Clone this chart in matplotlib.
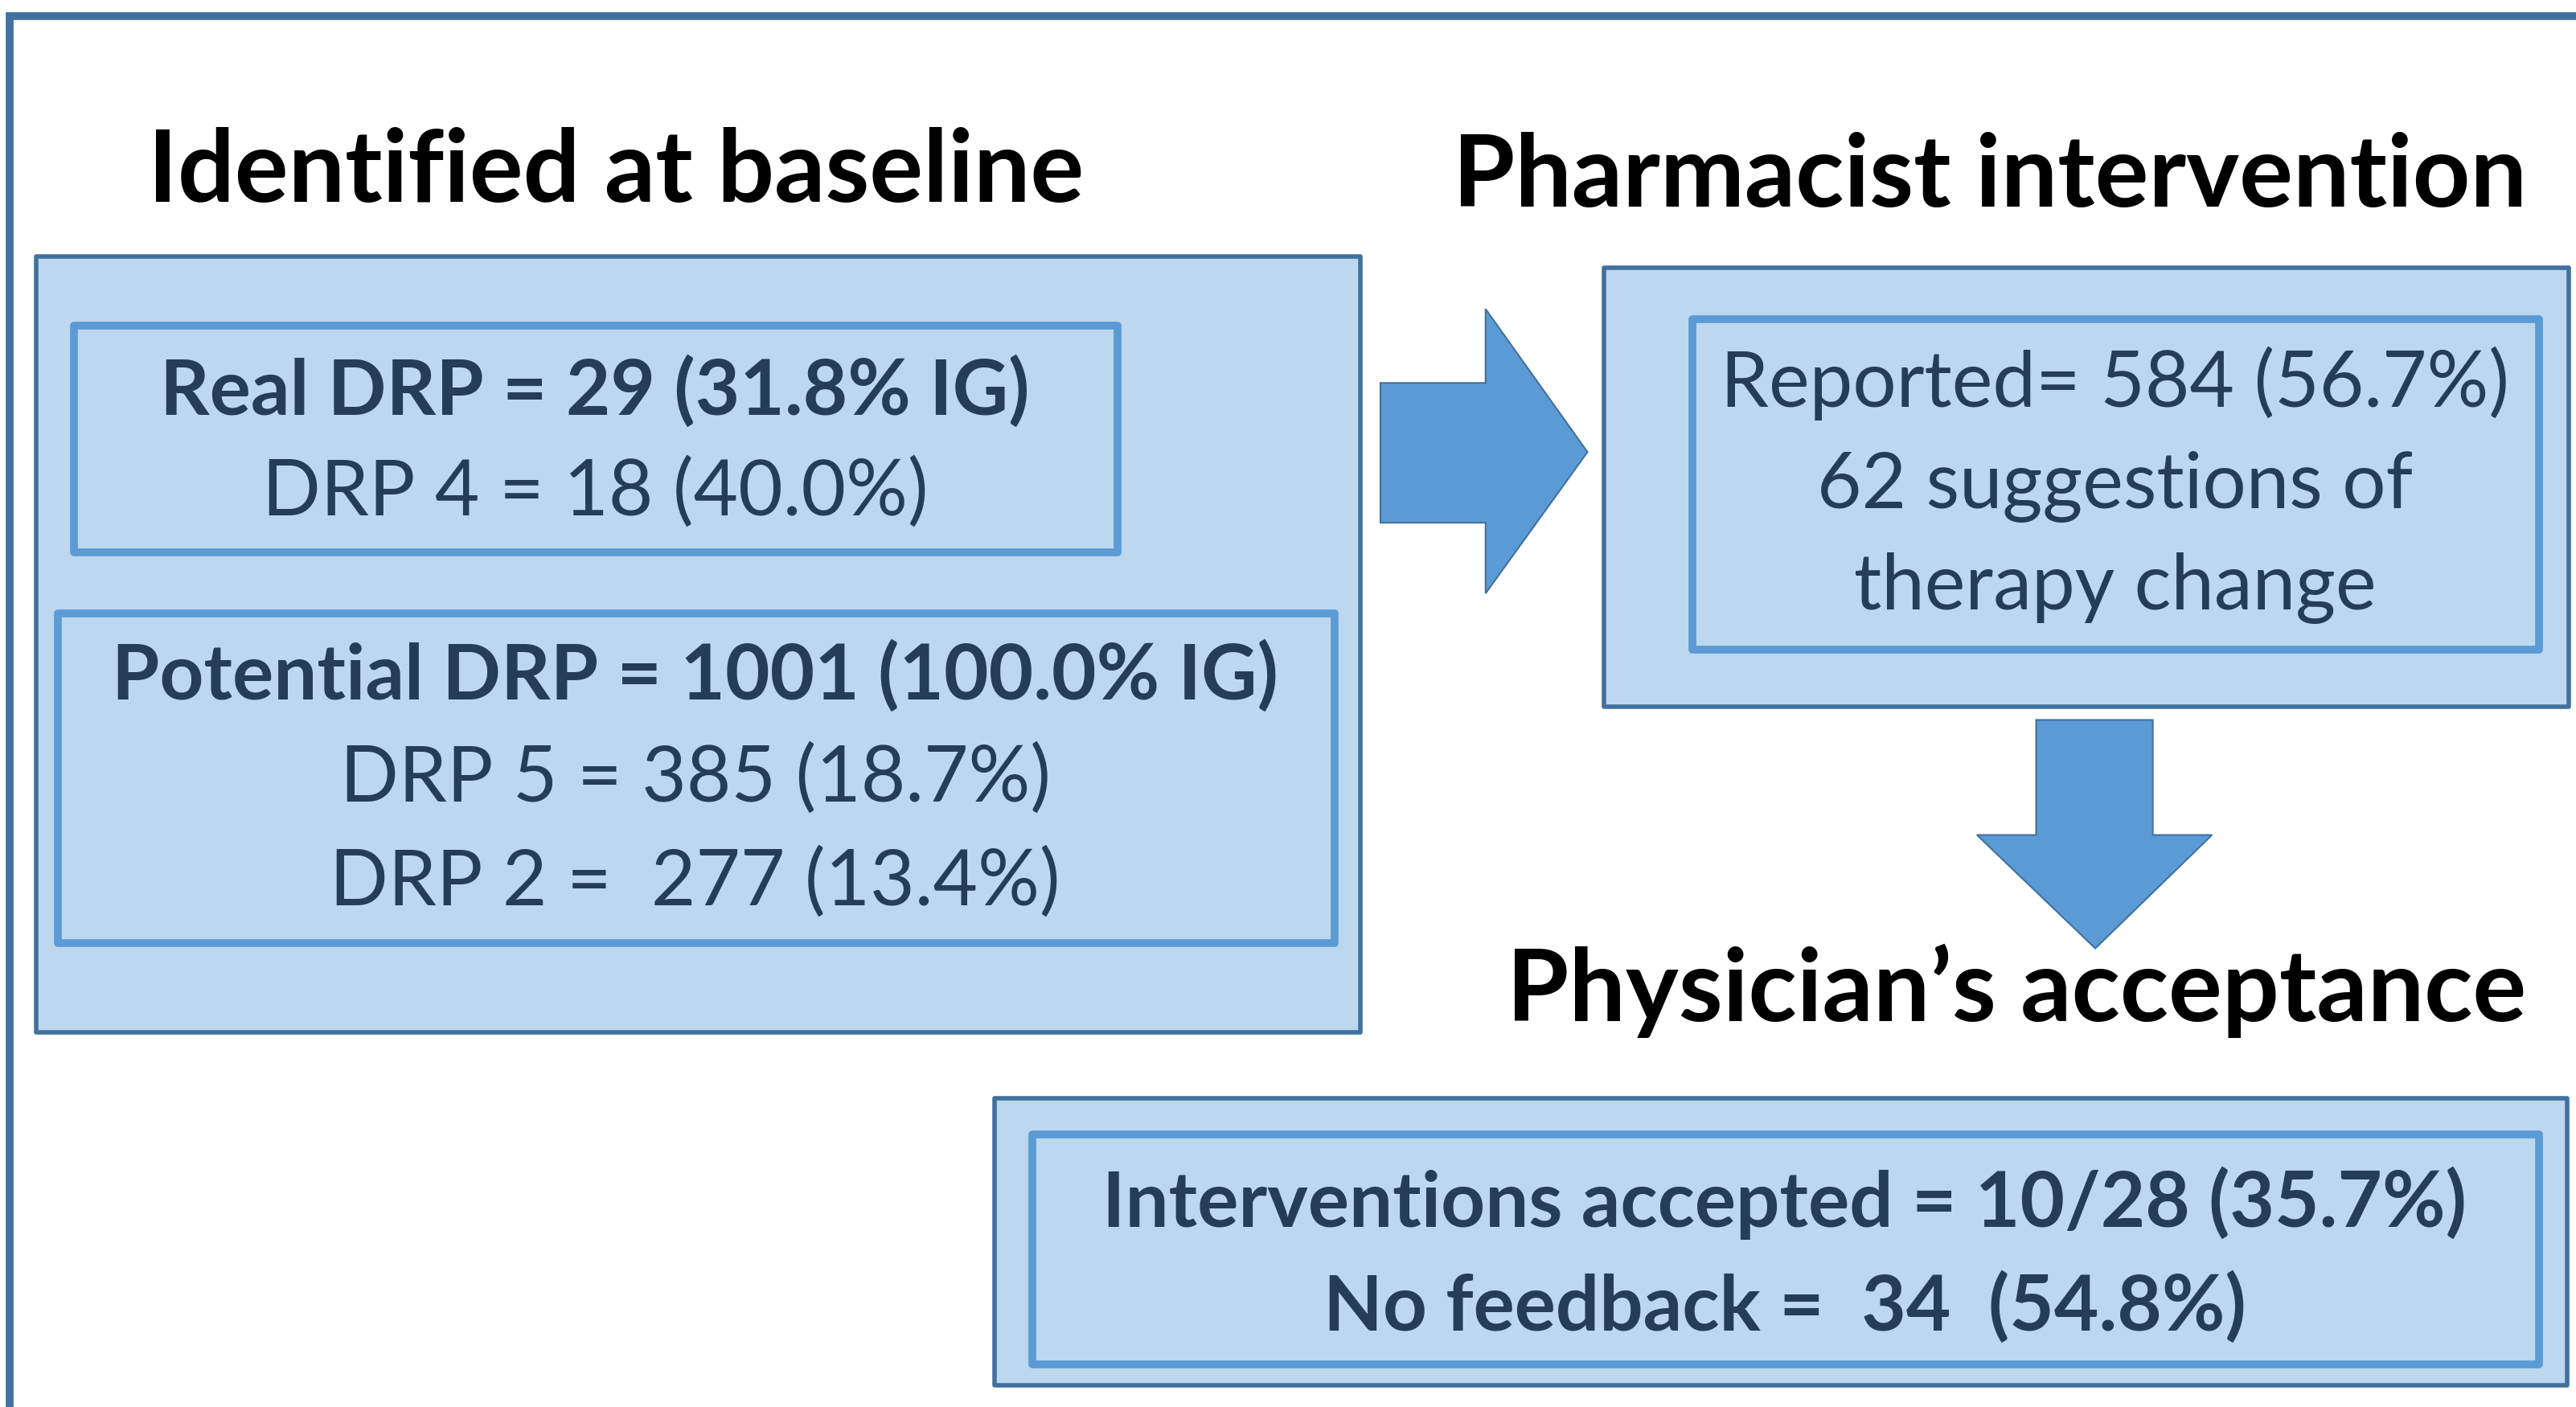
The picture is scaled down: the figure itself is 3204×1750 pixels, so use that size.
import matplotlib.pyplot as plt
from matplotlib.patches import Rectangle, Polygon

plt.rcParams['font.family'] = ['Lato', 'DejaVu Sans']

# text content
stage_titles = ["Identified at baseline", "Pharmacist intervention", "Physician\u2019s acceptance"]
real_lines = ["Real DRP = 29 (31.8% IG)", "DRP 4 = 18 (40.0%)"]
potential_lines = ["Potential DRP = 1001 (100.0% IG)", "DRP 5 = 385 (18.7%)", "DRP 2 =  277 (13.4%)"]
pharm_lines = ["Reported= 584 (56.7%)", "62 suggestions of", "therapy change"]
phys_lines = ["Interventions accepted = 10/28 (35.7%)", "No feedback =  34  (54.8%)"]

FILL = "#BDD7EE"
EDGE_DARK = "#41719C"
EDGE_MID = "#5B9BD5"
TXT = "#253D56"
TITLE_FS = 90
BODY_FS = 69

fig = plt.figure(figsize=(32.05, 17.50), dpi=100)
ax = fig.add_axes([0, 0, 1, 1])
ax.set_xlim(0, 1568)
ax.set_ylim(856, 0)
ax.axis('off')


def box(x0, y0, x1, y1, edge, lw):
    ax.add_patch(Rectangle((x0, y0), x1 - x0, y1 - y0, facecolor=FILL,
                           edgecolor=edge, linewidth=lw, joinstyle='round'))


# outer frame (runs off right and bottom)
ax.add_patch(Rectangle((6, 10), 1600, 900, facecolor='white', edgecolor=EDGE_DARK, linewidth=7))

# titles
ax.text(375, 105, stage_titles[0], ha='center', va='center', fontsize=TITLE_FS, fontweight='bold', color='black')
ax.text(1211, 108, stage_titles[1], ha='center', va='center', fontsize=TITLE_FS, fontweight='bold', color='black')
ax.text(1227, 603, stage_titles[2], ha='center', va='center', fontsize=TITLE_FS, fontweight='bold', color='black')

# baseline block
box(22, 156, 828, 628, EDGE_DARK, 4)
box(45, 198, 680, 336, EDGE_MID, 7)
ax.text(362, 238, real_lines[0], ha='center', va='center', fontsize=BODY_FS, fontweight='bold', color=TXT)
ax.text(362, 300, real_lines[1], ha='center', va='center', fontsize=BODY_FS, color=TXT)
box(35, 373, 812, 574, EDGE_MID, 7)
ax.text(423, 411, potential_lines[0], ha='center', va='center', fontsize=BODY_FS, fontweight='bold', color=TXT)
ax.text(423, 474, potential_lines[1], ha='center', va='center', fontsize=BODY_FS, color=TXT)
ax.text(423, 537, potential_lines[2], ha='center', va='center', fontsize=BODY_FS, color=TXT)

# pharmacist block
box(976, 163, 1563, 430, EDGE_DARK, 4)
box(1030, 194, 1545, 395, EDGE_MID, 7)
for yy, s in zip([233, 296, 358], pharm_lines):
    ax.text(1287, yy, s, ha='center', va='center', fontsize=BODY_FS, color=TXT)

# physician block
box(605, 668, 1562, 843, EDGE_DARK, 4)
box(628, 690, 1545, 830, EDGE_MID, 7)
for yy, s in zip([732, 795], phys_lines):
    ax.text(1086, yy, s, ha='center', va='center', fontsize=BODY_FS, fontweight='bold', color=TXT)

# arrows
right_arrow = [(840, 233), (904, 233), (904, 188), (966, 275), (904, 361), (904, 318), (840, 318)]
down_arrow = [(1239, 438), (1310, 438), (1310, 508), (1346, 508), (1275, 577), (1203, 508), (1239, 508)]
ax.add_patch(Polygon(right_arrow, closed=True, facecolor=EDGE_MID, edgecolor=EDGE_DARK, linewidth=1.5))
ax.add_patch(Polygon(down_arrow, closed=True, facecolor=EDGE_MID, edgecolor=EDGE_DARK, linewidth=1.5))

fig.savefig("out.png", dpi=100)
